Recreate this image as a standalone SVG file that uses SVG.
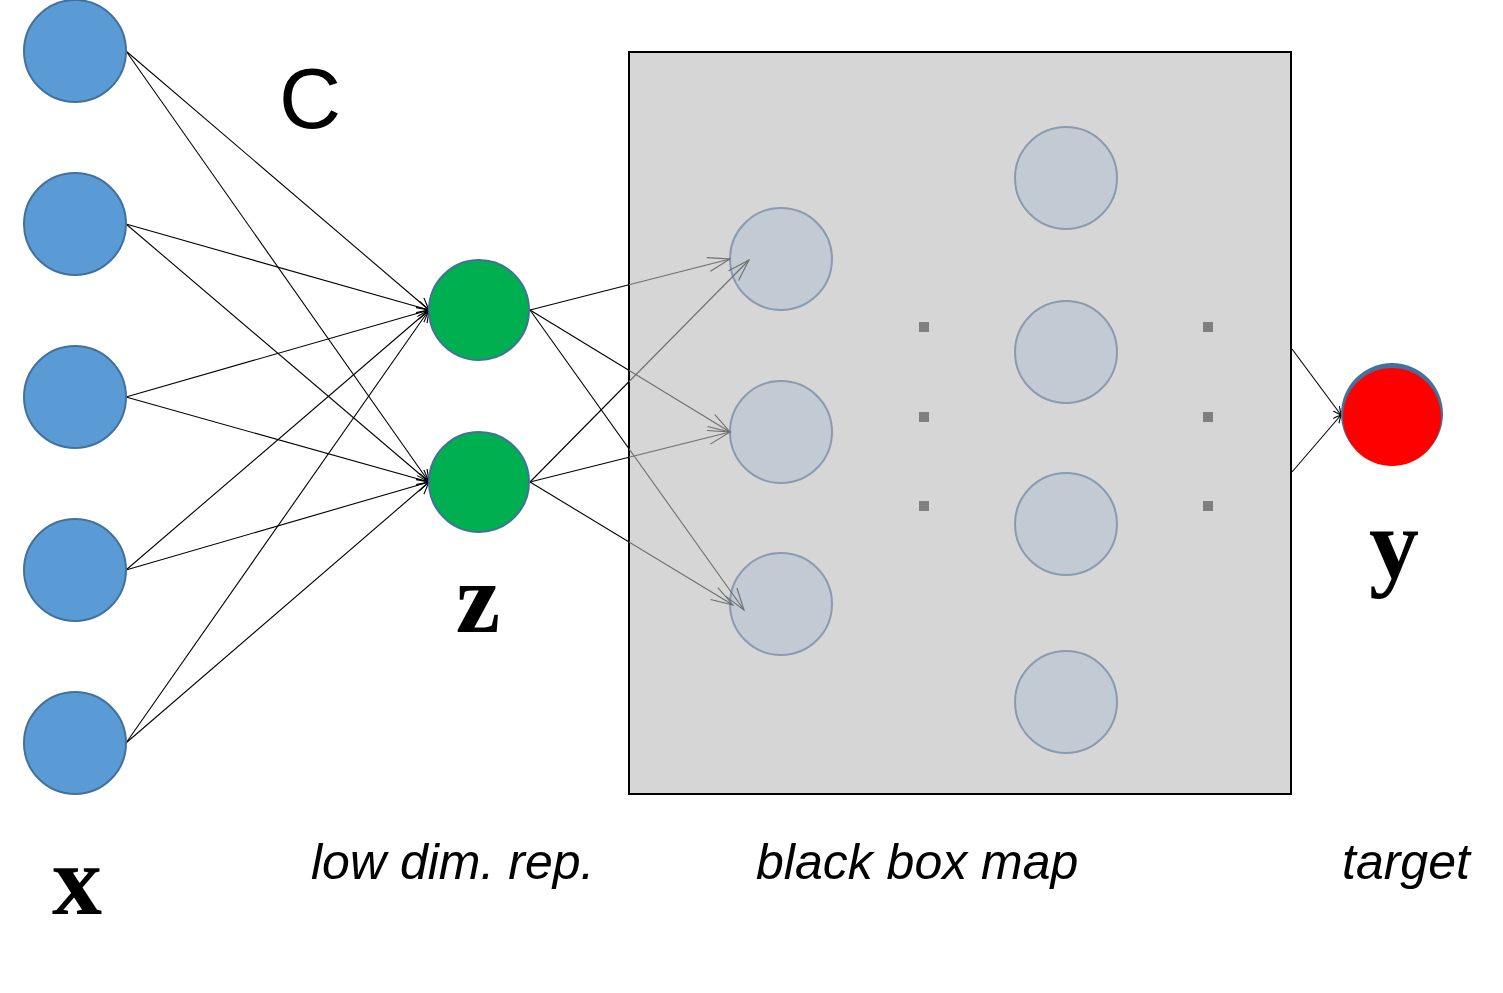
<svg xmlns="http://www.w3.org/2000/svg" width="1503" height="993" viewBox="0 0 1503 993">
<style>
.xn{fill:#5b9bd5;stroke:#41719c;stroke-width:2}
.zn{fill:#00b050;stroke:#41719c;stroke-width:2}
.bn{fill:#c2cad3;stroke:#8a9bb0;stroke-width:2}
.dot{fill:#7f7f7f}
.ln{stroke:#000;stroke-width:1.1;fill:none}
.lg{stroke:url(#fade);stroke-width:1.1;fill:none}
.lab{font-family:"Liberation Sans",Arial,sans-serif;font-style:italic;font-size:50px;fill:#000}
.var{font-family:"Liberation Serif","Times New Roman",serif;font-weight:bold;font-size:100px;fill:#000}
</style>
<defs>
<linearGradient id="fade" gradientUnits="userSpaceOnUse" x1="0" y1="0" x2="1503" y2="0">
<stop offset="0" stop-color="#000"/>
<stop offset="0.4185" stop-color="#000"/>
<stop offset="0.4185" stop-color="#6e6e6e"/>
<stop offset="1" stop-color="#6e6e6e"/>
</linearGradient>
<marker id="ah" markerUnits="userSpaceOnUse" markerWidth="14" markerHeight="14" refX="12" refY="6" orient="auto">
<path d="M0,0 L12,6 L0,12" fill="none" stroke="#000" stroke-width="1.1"/>
</marker>
<marker id="ahg" markerUnits="userSpaceOnUse" markerWidth="28" markerHeight="28" refX="24" refY="12" orient="auto">
<path d="M2,5 L24,12 L2,19" fill="none" stroke="#6e6e6e" stroke-width="1.1"/>
</marker>
<marker id="ahs" markerUnits="userSpaceOnUse" markerWidth="10" markerHeight="10" refX="8" refY="4" orient="auto">
<path d="M0,0 L8,4 L0,8" fill="none" stroke="#000" stroke-width="1.1"/>
</marker>
</defs>
<rect width="1503" height="993" fill="#fff"/>

<g id="blackbox">
<rect x="629" y="52" width="662" height="742" fill="#d6d6d6" stroke="#000" stroke-width="2"/>
</g>
<g id="b1"><circle class="bn" cx="781" cy="259" r="51"/></g>
<g id="b2"><circle class="bn" cx="781" cy="432" r="51"/></g>
<g id="b3"><circle class="bn" cx="781" cy="604" r="51"/></g>
<g id="h1"><circle class="bn" cx="1066" cy="178" r="51"/></g>
<g id="h2"><circle class="bn" cx="1066" cy="352" r="51"/></g>
<g id="h3"><circle class="bn" cx="1066" cy="524" r="51"/></g>
<g id="h4"><circle class="bn" cx="1066" cy="702" r="51"/></g>
<g id="dots">
<rect class="dot" x="919" y="322" width="10" height="10"/>
<rect class="dot" x="919" y="412" width="10" height="10"/>
<rect class="dot" x="919" y="501" width="10" height="10"/>
<rect class="dot" x="1203" y="322" width="10" height="10"/>
<rect class="dot" x="1203" y="412" width="10" height="10"/>
<rect class="dot" x="1203" y="501" width="10" height="10"/>
</g>

<g id="connectors">
<line class="ln" x1="126" y1="51" x2="429" y2="310" marker-end="url(#ah)"/>
<line class="ln" x1="126" y1="51" x2="429" y2="482" marker-end="url(#ah)"/>
<line class="ln" x1="126" y1="224" x2="429" y2="310" marker-end="url(#ah)"/>
<line class="ln" x1="126" y1="224" x2="429" y2="482" marker-end="url(#ah)"/>
<line class="ln" x1="126" y1="397" x2="429" y2="310" marker-end="url(#ah)"/>
<line class="ln" x1="126" y1="397" x2="429" y2="482" marker-end="url(#ah)"/>
<line class="ln" x1="126" y1="570" x2="429" y2="310" marker-end="url(#ah)"/>
<line class="ln" x1="126" y1="570" x2="429" y2="482" marker-end="url(#ah)"/>
<line class="ln" x1="126" y1="743" x2="429" y2="310" marker-end="url(#ah)"/>
<line class="ln" x1="126" y1="743" x2="429" y2="482" marker-end="url(#ah)"/>
<line class="lg" x1="530" y1="310" x2="730" y2="259" marker-end="url(#ahg)"/>
<line class="lg" x1="530" y1="310" x2="730" y2="432" marker-end="url(#ahg)"/>
<line class="lg" x1="530" y1="310" x2="744" y2="610" marker-end="url(#ahg)"/>
<line class="lg" x1="530" y1="482" x2="749" y2="260" marker-end="url(#ahg)"/>
<line class="lg" x1="530" y1="482" x2="730" y2="432" marker-end="url(#ahg)"/>
<line class="lg" x1="530" y1="482" x2="733" y2="605" marker-end="url(#ahg)"/>
<line class="ln" x1="1292" y1="349" x2="1341" y2="415" marker-end="url(#ahs)"/>
<line class="ln" x1="1292" y1="472" x2="1341" y2="415" marker-end="url(#ahs)"/>
</g>

<g id="x1"><circle class="xn" cx="75" cy="51" r="51"/></g>
<g id="x2"><circle class="xn" cx="75" cy="224" r="51"/></g>
<g id="x3"><circle class="xn" cx="75" cy="397" r="51"/></g>
<g id="x4"><circle class="xn" cx="75" cy="570" r="51"/></g>
<g id="x5"><circle class="xn" cx="75" cy="743" r="51"/></g>
<g id="z1"><circle class="zn" cx="479" cy="310" r="50"/></g>
<g id="z2"><circle class="zn" cx="479" cy="482" r="50"/></g>
<g id="y">
<circle cx="1392" cy="414" r="51" fill="#41719c"/>
<circle cx="1392" cy="417" r="49" fill="#ff0000"/>
</g>

<g id="labels">
<text x="279" y="128" font-family="Liberation Sans, Arial, sans-serif" font-size="86" fill="#000">C</text>
<text class="var" x="478" y="632" text-anchor="middle">z</text>
<text class="var" x="77" y="914" text-anchor="middle">x</text>
<text class="var" x="1394" y="578" text-anchor="middle">y</text>
<text class="lab" x="311" y="879">low dim. rep.</text>
<text class="lab" x="756" y="879">black box map</text>
<text class="lab" x="1342" y="879">target</text>
</g>
</svg>
